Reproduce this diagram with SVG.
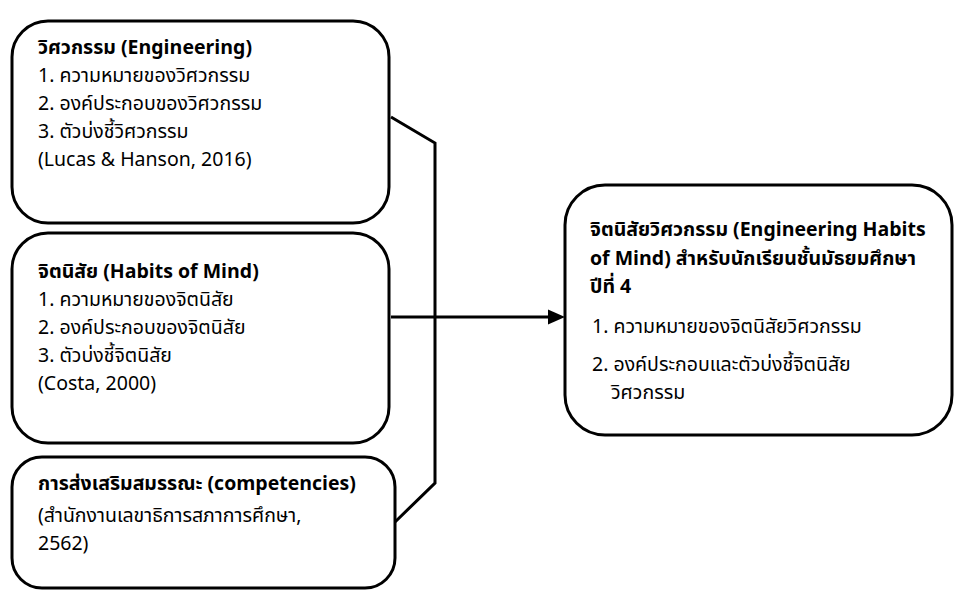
<svg xmlns="http://www.w3.org/2000/svg" width="955" height="590" viewBox="0 0 955 590">
<style>
.box{fill:#fff;stroke:#000;stroke-width:3}
.t{font-family:"Noto Sans Thai","Leelawadee UI","Noto Sans","DejaVu Sans",sans-serif;font-size:19.5px;fill:#000}
.b{font-weight:bold}
.con{fill:none;stroke:#000;stroke-width:3}
</style>
<rect width="955" height="590" fill="#fff"/>
<g id="node-engineering">
<rect class="box" x="12" y="21" width="377" height="202" rx="36" ry="36"/>
<text class="t b" x="38" y="54">วิศวกรรม (Engineering)</text>
<text class="t" x="38" y="82">1. ความหมายของวิศวกรรม</text>
<text class="t" x="38" y="110">2. องค์ประกอบของวิศวกรรม</text>
<text class="t" x="38" y="138">3. ตัวบ่งชี้วิศวกรรม</text>
<text class="t" x="38" y="166">(Lucas &amp; Hanson, 2016)</text>
</g>
<g id="node-habits">
<rect class="box" x="12" y="233" width="377" height="210" rx="36" ry="36"/>
<text class="t b" x="38" y="278">จิตนิสัย (Habits of Mind)</text>
<text class="t" x="38" y="306">1. ความหมายของจิตนิสัย</text>
<text class="t" x="38" y="334">2. องค์ประกอบของจิตนิสัย</text>
<text class="t" x="38" y="362">3. ตัวบ่งชี้จิตนิสัย</text>
<text class="t" x="38" y="390">(Costa, 2000)</text>
</g>
<g id="node-competencies">
<rect class="box" x="12" y="457" width="383" height="131" rx="30" ry="30"/>
<text class="t b" x="38" y="490">การส่งเสริมสมรรณะ (competencies)</text>
<text class="t" x="38" y="522">(สำนักงานเลขาธิการสภาการศึกษา,</text>
<text class="t" x="38" y="550">2562)</text>
</g>
<g id="node-ehom">
<rect class="box" x="565" y="185" width="387" height="250" rx="40" ry="40"/>
<text class="t b" x="590" y="236">จิตนิสัยวิศวกรรม (Engineering Habits</text>
<text class="t b" x="590" y="265">of Mind) สำหรับนักเรียนชั้นมัธยมศึกษา</text>
<text class="t b" x="590" y="293">ปีที่ 4</text>
<text class="t" x="592" y="333">1. ความหมายของจิตนิสัยวิศวกรรม</text>
<text class="t" x="592" y="371">2. องค์ประกอบและตัวบ่งชี้จิตนิสัย</text>
<text class="t" x="611" y="399">วิศวกรรม</text>
</g>
<g id="connectors">
<polyline class="con" points="391,117 435,143 435,483 395,522"/>
<line class="con" x1="391" y1="317" x2="550" y2="317" stroke-width="2.5"/>
<polygon points="548,309.5 565,317 548,324.5" fill="#000"/>
</g>
</svg>
